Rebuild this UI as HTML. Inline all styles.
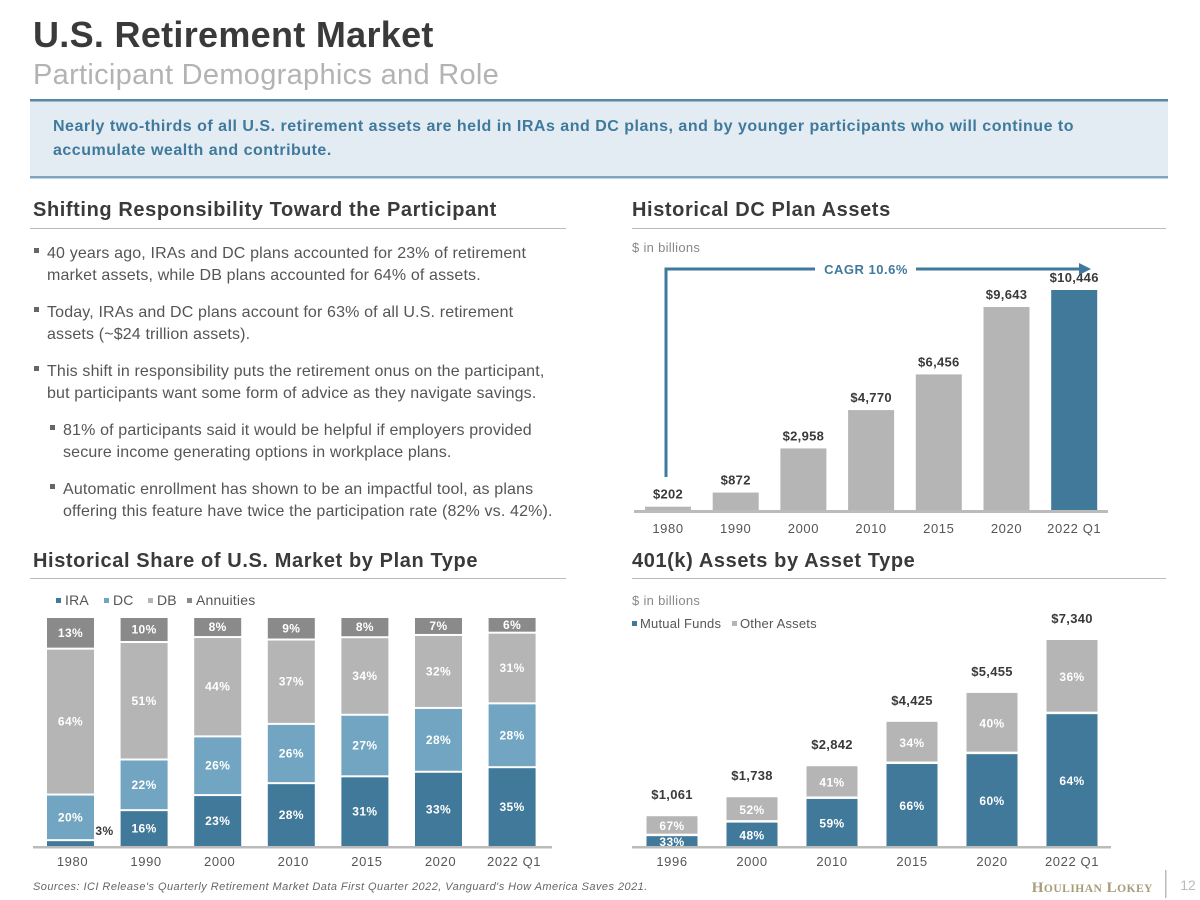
<!DOCTYPE html>
<html><head><meta charset="utf-8"><style>
html,body{margin:0;padding:0;background:#fff;}
svg{display:block;font-family:"Liberation Sans",Arial,sans-serif;}
</style></head><body>
<svg id="page" width="1200" height="900" viewBox="0 0 1200 900">
<text x="33" y="47" font-size="36" font-weight="bold" fill="#3a3a3a" letter-spacing="0.3">U.S. Retirement Market</text>
<text x="33" y="84" font-size="29" fill="#b3b3b3" letter-spacing="0.3">Participant Demographics and Role</text>
<g>
<rect x="30" y="100" width="1138" height="77" fill="#e3ebf3"/>
<rect x="30" y="99" width="1138" height="2.5" fill="#5b87a5"/>
<rect x="30" y="176" width="1138" height="2.5" fill="#7fa5c0"/>
<text x="53" y="131" font-size="16" font-weight="bold" fill="#3f7a9c" letter-spacing="0.5">Nearly two-thirds of all U.S. retirement assets are held in IRAs and DC plans, and by younger participants who will continue to</text>
<text x="53" y="155" font-size="16" font-weight="bold" fill="#3f7a9c" letter-spacing="0.5">accumulate wealth and contribute.</text>
</g>
<g font-size="20" font-weight="bold" fill="#3a3a3a" letter-spacing="0.6">
<text x="33" y="216">Shifting Responsibility Toward the Participant</text>
<text x="632" y="216">Historical DC Plan Assets</text>
<text x="33" y="567">Historical Share of U.S. Market by Plan Type</text>
<text x="632" y="567">401(k) Assets by Asset Type</text>
</g>
<rect x="30" y="228" width="536" height="1" fill="#bbb"/>
<rect x="632" y="228" width="534" height="1" fill="#bbb"/>
<rect x="30" y="578" width="536" height="1" fill="#bbb"/>
<rect x="632" y="578" width="534" height="1" fill="#bbb"/>

<g font-size="16" fill="#555" letter-spacing="0.15">
<rect x="34" y="248" width="5" height="5" fill="#666"/>
<text x="47" y="258">40 years ago, IRAs and DC plans accounted for 23% of retirement</text>
<text x="47" y="280">market assets, while DB plans accounted for 64% of assets.</text>
<rect x="34" y="307" width="5" height="5" fill="#666"/>
<text x="47" y="317">Today, IRAs and DC plans account for 63% of all U.S. retirement</text>
<text x="47" y="339">assets (~$24 trillion assets).</text>
<rect x="34" y="366" width="5" height="5" fill="#666"/>
<text x="47" y="376">This shift in responsibility puts the retirement onus on the participant,</text>
<text x="47" y="398">but participants want some form of advice as they navigate savings.</text>
<rect x="50" y="425" width="5" height="5" fill="#666"/>
<text x="63" y="435">81% of participants said it would be helpful if employers provided</text>
<text x="63" y="457">secure income generating options in workplace plans.</text>
<rect x="50" y="484" width="5" height="5" fill="#666"/>
<text x="63" y="494">Automatic enrollment has shown to be an impactful tool, as plans</text>
<text x="63" y="516">offering this feature have twice the participation rate (82% vs. 42%).</text>
</g>

<text x="632" y="252" font-size="13" fill="#888" letter-spacing="0.3">$ in billions</text>
<g id="dcChart"></g>
<g>
<polyline points="666,477 666,269 815,269" fill="none" stroke="#3f7a9c" stroke-width="3"/>
<line x1="916" y1="269" x2="1080" y2="269" stroke="#3f7a9c" stroke-width="3"/>
<polygon points="1079,263 1091,269 1079,275" fill="#3f7a9c"/>
<text x="866" y="274" font-size="13" font-weight="bold" fill="#3f7a9c" text-anchor="middle" letter-spacing="0.5">CAGR 10.6%</text>
</g>

<g font-size="14" fill="#555" letter-spacing="0.2">
<rect x="56" y="598" width="5" height="5" fill="#41799a"/><text x="65" y="605">IRA</text>
<rect x="104" y="598" width="5" height="5" fill="#71a5c2"/><text x="113" y="605">DC</text>
<rect x="148" y="598" width="5" height="5" fill="#b5b5b5"/><text x="157" y="605">DB</text>
<rect x="187" y="598" width="5" height="5" fill="#8a8a8a"/><text x="196" y="605">Annuities</text>
</g>
<g id="shareChart"></g>

<text x="632" y="605" font-size="13" fill="#888" letter-spacing="0.3">$ in billions</text>
<g font-size="13" fill="#555" letter-spacing="0.2">
<rect x="632" y="621" width="5" height="5" fill="#41799a"/><text x="640" y="628">Mutual Funds</text>
<rect x="732" y="621" width="5" height="5" fill="#b5b5b5"/><text x="740" y="628">Other Assets</text>
</g>
<g id="k401Chart"></g>

<text x="33" y="890" font-size="11" font-style="italic" fill="#666" letter-spacing="0.45">Sources: ICI Release's Quarterly Retirement Market Data First Quarter 2022, Vanguard's How America Saves 2021.</text>
<text x="1153" y="892" font-size="15" font-family="Liberation Serif,serif" font-weight="bold" fill="#a99a78" text-anchor="end" letter-spacing="0.5">H<tspan font-size="11.5">OULIHAN</tspan> L<tspan font-size="11.5">OKEY</tspan></text>
<rect x="1165" y="870" width="1.5" height="28" fill="#bbb"/>
<text x="1188" y="890" font-size="14" fill="#bbb" text-anchor="middle">12</text>
</svg>
<script>
const NS="http://www.w3.org/2000/svg";
// DC plan assets
const dcCategories=["1980","1990","2000","2010","2015","2020","2022 Q1"];
const dcValues=[202,872,2958,4770,6456,9643,10446];
const dcLabels=["$202","$872","$2,958","$4,770","$6,456","$9,643","$10,446"];
// Market share
const shareCategories=["1980","1990","2000","2010","2015","2020","2022 Q1"];
const shareIRA=[3,16,23,28,31,33,35];
const shareDC=[20,22,26,26,27,28,28];
const shareDB=[64,51,44,37,34,32,31];
const shareAnnuities=[13,10,8,9,8,7,6];
// 401k
const kCategories=["1996","2000","2010","2015","2020","2022 Q1"];
const kTotals=[1061,1738,2842,4425,5455,7340];
const kTotalLabels=["$1,061","$1,738","$2,842","$4,425","$5,455","$7,340"];
const kMutual=[33,48,59,66,60,64];
const kOther=[67,52,41,34,40,36];

function mk(tag,attrs,parent,text){const e=document.createElementNS(NS,tag);for(const k in attrs)e.setAttribute(k,attrs[k]);if(text!==undefined)e.textContent=text;parent.appendChild(e);return e;}

// DC chart
(function(){
const g=document.getElementById('dcChart');
const base=511, x0=668, step=67.7, bw=46, maxH=221, maxV=10446;
const y=v=>base-v/maxV*maxH;
dcValues.forEach((v,i)=>{
 const cx=x0+i*step;
 const r=mk('rect',{x:cx-bw/2,y:y(v),width:bw,height:base-y(v),fill:i===dcValues.length-1?'#41799a':'#b5b5b5'},g);
 
 
 const t=mk('text',{x:cx,y:y(v)-8,'font-size':13,'font-weight':'bold',fill:'#3a3a3a','text-anchor':'middle','letter-spacing':0.3},g,dcLabels[i]);
 
 
 const c=mk('text',{x:cx,y:533,'font-size':13,fill:'#555','text-anchor':'middle','letter-spacing':0.6},g,dcCategories[i]);
 
 
});
const ax=mk('rect',{x:634,y:510,width:474,height:3,fill:'#bbb'},g);


})();

// Share chart
(function(){
const g=document.getElementById('shareChart');
const base=846, top=618, x0=70.5, step=73.6, bw=47;
const series=[[shareIRA,'#41799a','ira'],[shareDC,'#71a5c2','dc'],[shareDB,'#b5b5b5','db'],[shareAnnuities,'#8a8a8a','annuities']];
shareCategories.forEach((c,i)=>{
 const cx=x0+i*step;
 const sum=series.reduce((s,a)=>s+a[0][i],0);
 let cur=base;
 series.forEach(([arr,col,nm],k)=>{
  const h=arr[i]/sum*(base-top);
  const yTop=cur-h;
  const r=mk('rect',{x:cx-bw/2,y:yTop+(k<3?2:0),width:bw,height:Math.max(h-(k<3?2:0),0.5),fill:col},g);
  if(k===0){r.setAttribute('y',yTop+2);r.setAttribute('height',h-2);}
  
  
  let tx=cx, ty=yTop+h/2+5, fill='#fff';
  if(arr[i]<5){tx=cx+34;ty=base-11;fill='#3a3a3a';}
  if(k===3){ty=yTop+h/2+4;}
  const t=mk('text',{x:tx,y:ty,'font-size':12,'font-weight':'bold',fill:fill,'text-anchor':'middle','letter-spacing':0.4},g,arr[i]+'%');
  
  
  cur=yTop;
 });
 const l=mk('text',{x:cx+2,y:866,'font-size':13,fill:'#555','text-anchor':'middle','letter-spacing':0.6},g,c);
 
 
});
const ax=mk('rect',{x:33,y:846,width:519,height:2.5,fill:'#bbb'},g);


})();

// 401k chart
(function(){
const g=document.getElementById('k401Chart');
const base=846, x0=672, step=80, bw=51, maxH=206, maxV=7340;
kCategories.forEach((c,i)=>{
 const cx=x0+i*step;
 const H=kTotals[i]/maxV*maxH;
 const hm=H*kMutual[i]/100, ho=H*kOther[i]/100;
 const r1=mk('rect',{x:cx-bw/2,y:base-hm,width:bw,height:hm,fill:'#41799a'},g);
 
 
 const r2=mk('rect',{x:cx-bw/2,y:base-H,width:bw,height:ho-2.5,fill:'#b5b5b5'},g);
 
 
 const t1=mk('text',{x:cx,y:base-hm/2+5,'font-size':12,'font-weight':'bold',fill:'#fff','text-anchor':'middle','letter-spacing':0.4},g,kMutual[i]+'%');
 
 
 const t2=mk('text',{x:cx,y:base-hm-ho/2+4,'font-size':12,'font-weight':'bold',fill:'#fff','text-anchor':'middle','letter-spacing':0.4},g,kOther[i]+'%');
 
 
 const tt=mk('text',{x:cx,y:base-H-17,'font-size':13,'font-weight':'bold',fill:'#3a3a3a','text-anchor':'middle','letter-spacing':0.3},g,kTotalLabels[i]);
 
 
 const l=mk('text',{x:cx,y:866,'font-size':13,fill:'#555','text-anchor':'middle','letter-spacing':0.6},g,c);
 
 
});
const ax=mk('rect',{x:632,y:846,width:479,height:2.5,fill:'#bbb'},g);


})();
</script>
</body></html>
